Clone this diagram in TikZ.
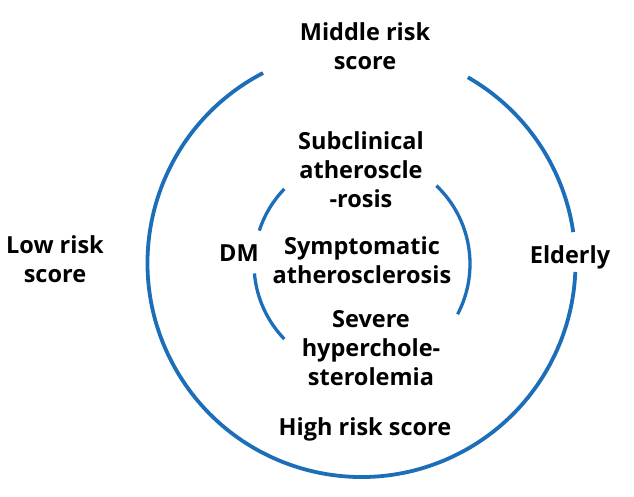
\documentclass[tikz,border=0pt]{standalone}
\usepackage{fontspec}
\setmainfont{Open Sans}
\definecolor{ringblue}{RGB}{28,110,185}
\begin{document}
\begin{tikzpicture}[x=1pt,y=1pt,
  lbl/.style={font=\fontsize{23.5}{29}\selectfont\bfseries, align=center, inner sep=0pt, anchor=base, text=black},
  ring/.style={draw=ringblue, line width=3.8pt},
  inring/.style={draw=ringblue, line width=3.3pt}]
\useasboundingbox (0,0) rectangle (634,496);
\coordinate (co) at (361.5,233);
\coordinate (ci) at (362,232);
% outer ring
\draw[ring] (co) ++(117.4:214) arc[start angle=117.4, end angle=357.6, radius=214];
\draw[ring] (co) ++(8.3:214) arc[start angle=8.3, end angle=60.2, radius=214];
% inner ring
\draw[inring] (ci) ++(136:108) arc[start angle=136, end angle=162, radius=108];
\draw[inring] (ci) ++(185:108) arc[start angle=185, end angle=224, radius=108];
\draw[inring] (ci) ++(-27.7:108) arc[start angle=-27.7, end angle=46.5, radius=108];
% labels (anchor = baseline of last line)
\node[lbl] (mid) at (365,496-70) {Middle risk\\score};
\node[lbl] (sub) at (361,496-208) {Subclinical\\atheroscle\\-rosis};
\node[lbl] (sym) at (362,496-283) {Symptomatic\\atherosclerosis};
\node[lbl] (sev) at (371,496-385) {Severe\\hyperchole-\\sterolemia};
\node[lbl] (high) at (365,496-435) {High risk score};
\node[lbl] (low) at (55,496-282) {Low risk\\score};
\node[lbl] (dm) at (239,496-261) {DM};
\node[lbl] (eld) at (570,496-263) {Elderly};
\end{tikzpicture}
\end{document}
